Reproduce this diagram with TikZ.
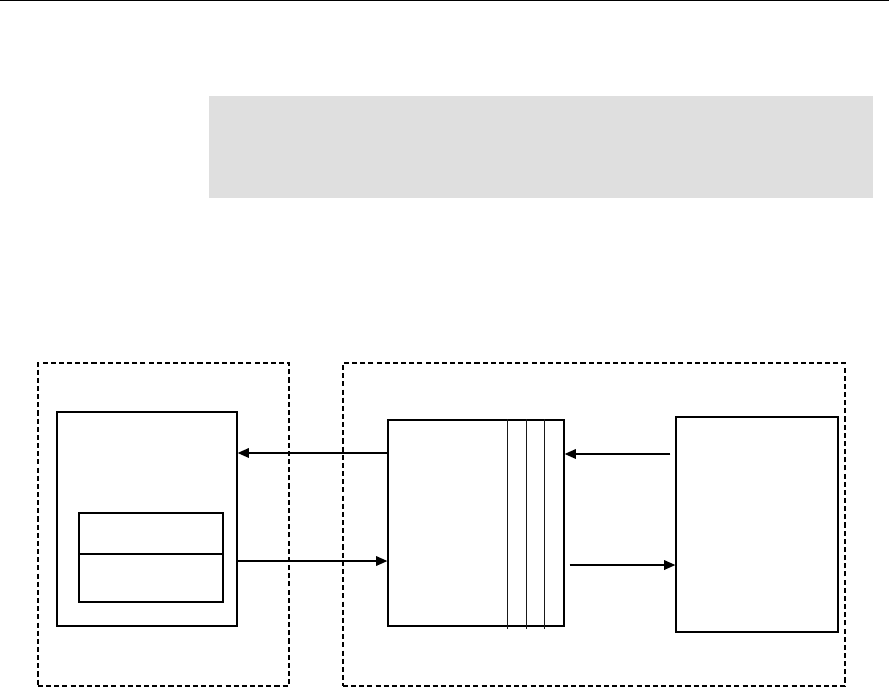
\documentclass[tikz,border=0pt]{standalone}
\usepackage{xcolor}
\usepackage{tikz}
\usetikzlibrary{arrows.meta, positioning}

\definecolor{bandgray}{HTML}{DFDFDF}

\begin{document}
\begin{tikzpicture}[
  x=0.025cm, y=0.025cm,
  box/.style={
    draw=black,
    fill=white,
    line width=0.9pt,
    inner sep=0pt
  },
  zone/.style={
    draw=black,
    line width=0.9pt,
    dash pattern=on 3.6pt off 2.2pt,
    inner sep=0pt
  },
  slot/.style={
    draw=black!90,
    line width=1pt
  },
  arrow/.style={
    draw=black,
    -{Triangle[length=0.28cm, width=0.24cm]},
    line width=1pt
  }
]

% Page frame
\useasboundingbox (0,0) rectangle (889,-687);
\coordinate (ruleL) at (0,-0.6);
\coordinate (ruleR) at (889,-0.6);
\draw[line width=0.9pt] (ruleL) -- (ruleR);

% Grey band
\node[fill=bandgray, minimum width=16.6cm, minimum height=2.55cm, inner sep=0pt] (band) at (541,-147) {};

% Dashed zones
\node[zone, minimum width=6.275cm, minimum height=8.075cm] (leftzone) at (163.5,-524.5) {};
\node[zone, minimum width=12.55cm, minimum height=8.075cm] (rightzone) at (594,-524.5) {};

% Left host box with two stacked fields
\node[box, minimum width=4.5cm, minimum height=5.35cm] (host) at (147,-519) {};
\node[box, minimum width=3.6cm, minimum height=1.025cm] (fieldA) at (151,-533.5) {};
\node[box, minimum width=3.6cm, minimum height=1.2cm] (fieldB) at (151,-578) {};

% Middle queue box
\node[box, minimum width=4.4cm, minimum height=5.15cm] (queue) at (476,-523) {};
\foreach \dx in {3.0cm, 3.475cm, 3.925cm}
  \draw[slot] ([xshift=\dx]queue.north west) -- ([xshift=\dx, yshift=-0.05cm]queue.south west);

% Right box
\node[box, minimum width=4.05cm, minimum height=5.375cm] (device) at (757,-524.5) {};

% Arrows
\draw[arrow] ([yshift=1.75cm]queue.west) -- ([yshift=1.75cm]queue.west -| host.east);
\draw[arrow] ([yshift=-1.05cm]host.east) -- ([yshift=-1.05cm]host.east -| queue.west);
\draw[arrow] ([xshift=-0.125cm, yshift=1.7625cm]device.west) -- ([yshift=1.7625cm]device.west -| queue.east);
\draw[arrow] ([xshift=0.125cm, yshift=-1.0125cm]device.west -| queue.east) -- ([yshift=-1.0125cm]device.west);

\end{tikzpicture}
\end{document}
